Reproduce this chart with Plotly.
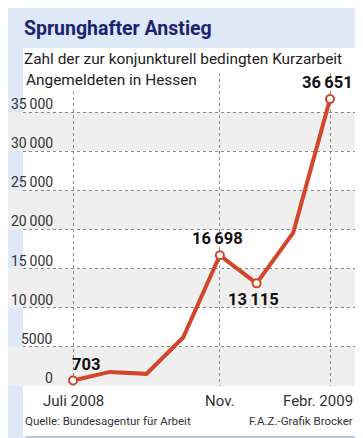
import plotly.graph_objects as go

# ---- data ----
months = ["Jul 2008", "Aug", "Sep", "Okt", "Nov", "Dez", "Jan", "Feb 2009"]
values = [703, 1800, 1550, 6200, 16698, 13115, 19600, 36651]
labeled_idx = [0, 4, 5, 7]
value_labels = ["703", "16\u2009698", "13\u2009115", "36\u2009651"]
ytick_vals = [0, 5000, 10000, 15000, 20000, 25000, 30000, 35000]
ytick_text = ["0", "5000", "10\u2009000", "15\u2009000", "20\u2009000", "25\u2009000", "30\u2009000", "35\u2009000"]
xtick_idx = [0, 4, 7]
xtick_text = ["Juli 2008", "Nov.", "Febr. 2009"]

W, H = 363, 438
FONT = "Roboto"
RED = "#d4462a"
NAVY = "#1b2470"

def px(x):
    return x / W

def py(y):
    return 1 - y / H

xs = list(range(len(months)))

fig = go.Figure()
fig.add_trace(go.Scatter(x=xs, y=values, mode="lines",
                         line=dict(color=RED, width=4), hoverinfo="skip"))
fig.add_trace(go.Scatter(x=[xs[i] for i in labeled_idx], y=[values[i] for i in labeled_idx],
                         mode="markers",
                         marker=dict(size=8, color="white", line=dict(color=RED, width=2)),
                         hoverinfo="skip"))

shapes = []
# panel shadow and panel
shapes.append(dict(type="rect", xref="paper", yref="paper", x0=px(18), x1=px(350), y0=py(431), y1=py(43),
                   fillcolor="#b9c5d8", line=dict(width=0), layer="below"))
shapes.append(dict(type="rect", xref="paper", yref="paper", x0=px(15), x1=px(347), y0=py(428), y1=py(40),
                   fillcolor="white", line=dict(width=0), layer="below"))
# grey bands
for lo in [0, 10000, 20000, 30000]:
    shapes.append(dict(type="rect", xref="paper", yref="y", x0=0, x1=1, y0=lo, y1=lo + 5000,
                       fillcolor="#efefef", line=dict(width=0), layer="below"))

ann = []
ann.append(dict(text="<b>Sprunghafter Anstieg</b>", xref="paper", yref="paper", x=px(14), y=py(20),
                xanchor="left", yanchor="middle", showarrow=False,
                font=dict(family=FONT, size=19.5, color=NAVY)))
ann.append(dict(text="Zahl der zur konjunkturell bedingten Kurzarbeit", xref="paper", yref="paper",
                x=px(14), y=py(51), xanchor="left", yanchor="middle", showarrow=False,
                font=dict(family=FONT, size=15.4, color="#222")))
ann.append(dict(text="Angemeldeten in Hessen", xref="paper", yref="paper",
                x=px(15), y=py(72), xanchor="left", yanchor="middle", showarrow=False,
                bgcolor="white", borderpad=2,
                font=dict(family=FONT, size=15.4, color="#222")))
# y tick labels
for v, t in zip(ytick_vals, ytick_text):
    ann.append(dict(text=t, xref="paper", yref="y", x=px(62) - px(15), y=v,
                    xanchor="right", yanchor="bottom", showarrow=False, yshift=-2,
                    font=dict(family=FONT, size=14, color="#333")))
# x tick labels
xanchors = ["center", "center", "right"]
xoffs = [0, 0, 25]
for i, t, a, o in zip(xtick_idx, xtick_text, xanchors, xoffs):
    ann.append(dict(text=t, xref="x", yref="paper", x=xs[i], y=py(393), xshift=o,
                    xanchor=a, yanchor="middle", showarrow=False,
                    font=dict(family=FONT, size=15, color="#333")))
# value labels
lab_pos = [dict(xanchor="left", yanchor="bottom", xshift=-3, yshift=5),
           dict(xanchor="center", yanchor="bottom", xshift=-2, yshift=5),
           dict(xanchor="center", yanchor="top", xshift=-3, yshift=-5),
           dict(xanchor="right", yanchor="bottom", xshift=25, yshift=5)]
for i, t, p in zip(labeled_idx, value_labels, lab_pos):
    ann.append(dict(text="<b>" + t + "</b>", xref="x", yref="y", x=xs[i], y=values[i],
                    showarrow=False, font=dict(family=FONT, size=16.5, color="#111"), **p))
# footer
ann.append(dict(text="Quelle: Bundesagentur für Arbeit", xref="paper", yref="paper", x=px(15), y=py(413),
                xanchor="left", yanchor="middle", showarrow=False,
                font=dict(family=FONT, size=11.5, color="#333")))
ann.append(dict(text="F.A.Z.-Grafik Brocker", xref="paper", yref="paper", x=px(347), y=py(413),
                xanchor="right", yanchor="middle", showarrow=False,
                font=dict(family=FONT, size=11.5, color="#333")))

fig.update_layout(
    width=W, height=H,
    margin=dict(l=0, r=0, t=0, b=0),
    paper_bgcolor="#dfe8f7",
    plot_bgcolor="rgba(0,0,0,0)",
    showlegend=False,
    shapes=shapes,
    annotations=ann,
    xaxis=dict(domain=[px(15), px(347)], range=[-1.362, 7.681], tickvals=xtick_idx,
               showticklabels=False, showgrid=True, gridcolor="#8a8a8a", griddash="dot", gridwidth=1,
               zeroline=False, showline=False, ticks=""),
    yaxis=dict(domain=[py(378), py(64.9)], range=[0, 40000], tickvals=ytick_vals + [40000],
               showticklabels=False, showgrid=True, gridcolor="#8a8a8a", griddash="dot", gridwidth=1,
               zeroline=False, showline=False, ticks=""),
)

fig.write_html("out.html")
